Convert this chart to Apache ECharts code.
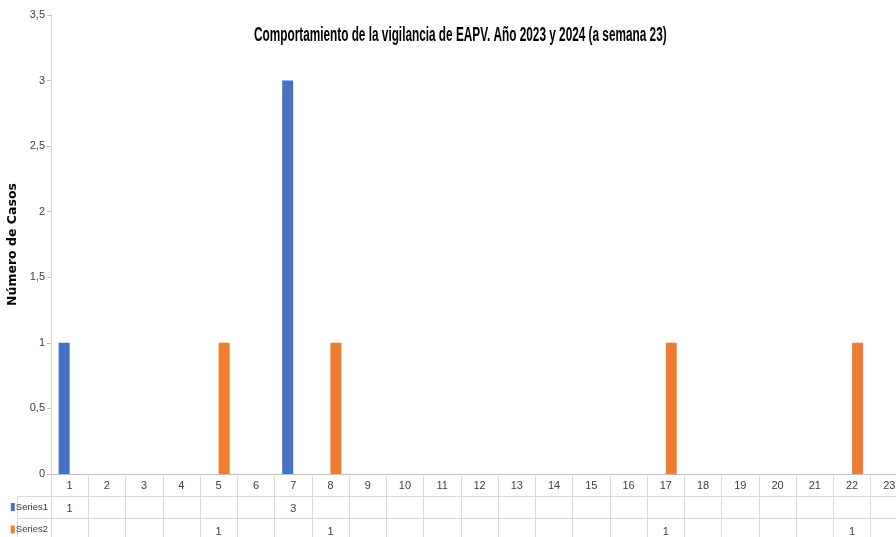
<!DOCTYPE html>
<html>
<head>
<meta charset="utf-8">
<script src="https://cdn.jsdelivr.net/npm/echarts@6/dist/echarts.min.js"></script>
<style>
    html, body { margin: 0; padding: 0; background: #fff; }
    #chart { width: 896px; height: 537px; }
</style>
</head>
<body>
<div id="chart"></div>
<script>
// semanas epidemiologicas
var semanas = ['1', '2', '3', '4', '5', '6', '7', '8', '9', '10', '11', '12',
    '13', '14', '15', '16', '17', '18', '19', '20', '21', '22', '23'];
// Series1 (2023) y Series2 (2024)
var series1 = [1, 0, 0, 0, 0, 0, 3, 0, 0, 0, 0, 0, 0, 0, 0, 0, 0, 0, 0, 0, 0, 0, 0];
var series2 = [0, 0, 0, 0, 1, 0, 0, 1, 0, 0, 0, 0, 0, 0, 0, 0, 1, 0, 0, 0, 0, 1, 0];
var nombres = ['Series1', 'Series2'];
var colores = ['#4472C4', '#ED7D31'];
var titulo = 'Comportamiento de la vigilancia de EAPV. Año 2023 y 2024 (a semana 23)';

var fuente = "'Liberation Sans', Arial, sans-serif";
var gris = '#d9d9d9';

// fila de la tabla de datos debajo del eje
function filaTabla(idx) {
    var valores = idx === 0 ? series1 : series2;
    return {
        x: {
            type: 'category',
            gridIndex: idx + 1,
            data: semanas,
            axisLine: { show: false },
            axisTick: { show: false },
            splitLine: { show: true, interval: 0, lineStyle: { color: gris } },
            axisLabel: {
                inside: true,
                interval: 0,
                margin: 4,
                color: '#404040',
                fontFamily: fuente,
                fontSize: 11,
                formatter: function (v, i) {
                    return valores[i] ? String(valores[i]) : '';
                }
            }
        },
        y: {
            type: 'category',
            gridIndex: idx + 1,
            data: [nombres[idx]],
            axisLine: { show: false },
            axisTick: { show: false },
            axisLabel: {
                margin: 3,
                formatter: function (v) { return '{sq|}{t|' + v + '}'; },
                rich: {
                    sq: { backgroundColor: colores[idx], width: 4, height: 8 },
                    t: { color: '#404040', fontFamily: fuente, fontSize: 9.5, padding: [0, 0, 0, 1] }
                }
            }
        }
    };
}

var fila1 = filaTabla(0);
var fila2 = filaTabla(1);

var option = {
    animation: false,
    backgroundColor: '#fff',
    grid: [
        { left: 51, width: 857, top: 15, bottom: 63, outerBoundsMode: 'none' },
        { left: 51, width: 857, top: 496, height: 22, outerBoundsMode: 'none' },
        { left: 51, width: 857, top: 518, height: 23, outerBoundsMode: 'none' }
    ],
    xAxis: [
        {
            type: 'category',
            gridIndex: 0,
            data: semanas,
            axisLine: { lineStyle: { color: '#bfbfbf' } },
            axisTick: { show: true, interval: 0, length: 22, lineStyle: { color: gris } },
            axisLabel: {
                interval: 0,
                margin: 6,
                color: '#404040',
                fontFamily: fuente,
                fontSize: 11
            }
        },
        fila1.x,
        fila2.x
    ],
    yAxis: [
        {
            type: 'value',
            gridIndex: 0,
            min: 0,
            max: 3.5,
            interval: 0.5,
            name: 'Número de Casos',
            nameLocation: 'middle',
            nameGap: 28,
            nameTextStyle: {
                color: '#000',
                fontFamily: "'DejaVu Sans', sans-serif",
                fontWeight: 'bold',
                fontSize: 12.5
            },
            axisLine: { show: true, lineStyle: { color: gris } },
            axisTick: { show: true, length: 4, lineStyle: { color: '#bfbfbf' } },
            splitLine: { show: false },
            axisLabel: {
                margin: 6,
                color: '#404040',
                fontFamily: fuente,
                fontSize: 11,
                formatter: function (v) { return String(v).replace('.', ','); }
            }
        },
        fila1.y,
        fila2.y
    ],
    graphic: [
        // titulo (letra estrecha, como en el original)
        {
            type: 'text',
            x: 254,
            y: 26,
            scaleX: 0.605,
            style: {
                text: titulo,
                fill: '#000',
                font: "bold 19.5px 'Liberation Sans', Arial, sans-serif"
            }
        },
        // bordes de la tabla de datos
        { type: 'line', shape: { x1: 17, y1: 496.5, x2: 896, y2: 496.5 }, style: { stroke: gris, lineWidth: 1 } },
        { type: 'line', shape: { x1: 17, y1: 518.5, x2: 896, y2: 518.5 }, style: { stroke: gris, lineWidth: 1 } },
        { type: 'line', shape: { x1: 17.5, y1: 496, x2: 17.5, y2: 537 }, style: { stroke: gris, lineWidth: 1 } }
    ],
    series: [
        {
            name: nombres[0],
            type: 'bar',
            xAxisIndex: 0,
            yAxisIndex: 0,
            data: series1,
            barWidth: 11,
            barGap: '0%',
            itemStyle: { color: colores[0] }
        },
        {
            name: nombres[1],
            type: 'bar',
            xAxisIndex: 0,
            yAxisIndex: 0,
            data: series2,
            barWidth: 11,
            barGap: '0%',
            itemStyle: { color: colores[1] }
        }
    ]
};

var chart = echarts.init(document.getElementById('chart'));
chart.setOption(option);
</script>
</body>
</html>
